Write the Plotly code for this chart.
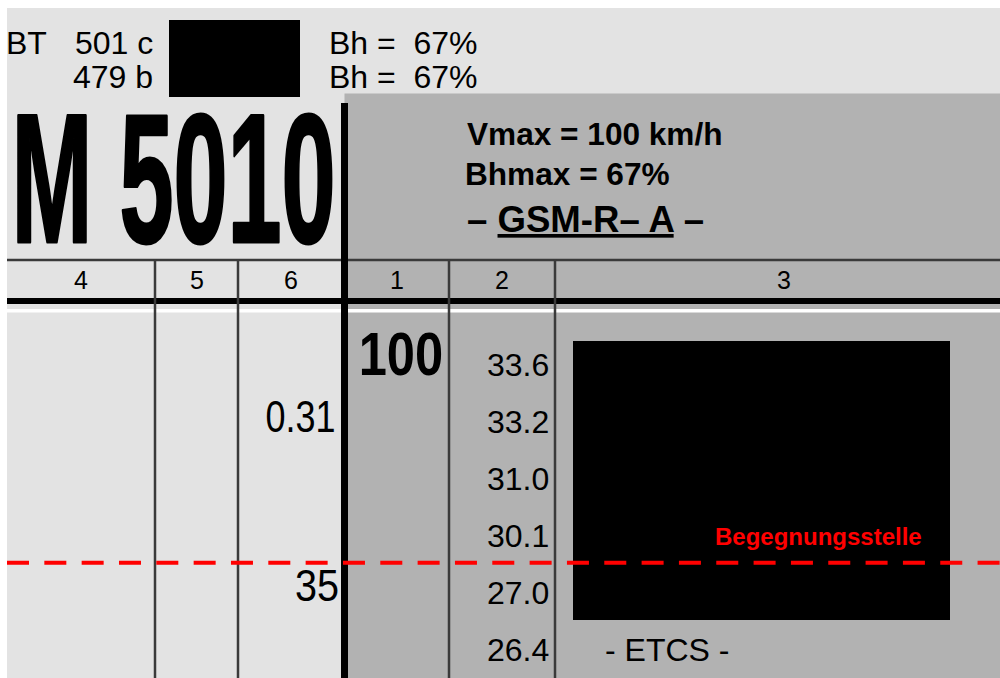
import json
import plotly.graph_objects as go

# ---------------- data ----------------
TRAIN_NUMBER = "M 5010"
BT_LABEL = "BT"
BT_CODES = ["501 c", "479 b"]
BRAKE_RATIOS = [67, 67]            # Bh = .. %
VMAX = 100                         # km/h
BHMAX = 67                         # %
RADIO_SYSTEM = "GSM-R– A"
COLUMN_LABELS = ["4", "5", "6", "1", "2", "3"]
KM_POSITIONS = [33.6, 33.2, 31.0, 30.1, 27.0, 26.4]   # column 2
COL6_VALUES = ["0.31", "35"]                            # column 6
SPEED_VALUES = ["100"]                                  # column 1
MEETING_LABEL = "Begegnungsstelle"
PROTECTION_LABEL = "- ETCS -"

# ---------------- layout / style ----------------
FONT = "Liberation Sans, Arial, sans-serif"
LIGHT = "#e3e3e3"
DARK = "#b2b2b2"
LINE = "#3a3a3a"
RED = "#ff0000"

W, H = 1000, 678
COL_EDGES = [7, 155, 238, 344.5, 449, 555, 1012]
ROW_TOP, ROW_STEP = 364.5, 57.0
TOP_LINES = [42.5, 77.0]
COL6_ROWS = [0.904, 3.868]
COL6_RIGHT = [337, 340]
COL6_SQUEEZE = [0.80, 0.88]
SPEED_ROWS = [-0.193]
MEETING_ROW = 3.48
PROTECTION_ROW = 5
HEADER_Y = 280
BOTTOM = 700


def row_y(r):
    return ROW_TOP + r * ROW_STEP


anns = []
squeeze = {}


def add(x, y_cap, text, size, anchor, weight="normal", color="black", sq=None, stroke=0, tight=0):
    idx = len(anns)
    anns.append(dict(
        x=x, y=y_cap + 0.0115 * size, xref="x", yref="y", text=text,
        showarrow=False, xanchor=anchor, yanchor="middle",
        align=anchor if anchor in ("left", "right") else "center",
        borderpad=0,
        font=dict(family=FONT, size=size, color=color, weight=weight),
    ))
    if sq:
        squeeze[str(idx)] = [sq, stroke, tight]


# top line
add(5, TOP_LINES[0], BT_LABEL, 32, "left")
for i, code in enumerate(BT_CODES):
    add(153.5, TOP_LINES[i], code, 32, "right")
for i, bh in enumerate(BRAKE_RATIOS):
    add(328, TOP_LINES[i], f"Bh =\u00a0 {bh}%", 32, "left")

# train number
add(173.5, 175.5, TRAIN_NUMBER, 184.4, "center", "bold", sq=0.527, stroke=3, tight=1)

# right header block
add(466, 134, f"Vmax = {VMAX} km/h", 31.6, "left", "bold")
add(464, 174, f"Bhmax = {BHMAX}%", 31.6, "left", "bold")
add(466, 219.5, f"– <u>{RADIO_SYSTEM}</u> –", 36.6, "left", "bold")

# column headers
for i, lab in enumerate(COLUMN_LABELS):
    cx = (COL_EDGES[i] + COL_EDGES[i + 1]) / 2
    add(cx, HEADER_Y, lab, 25, "center")

# column 1: speed
for v, r in zip(SPEED_VALUES, SPEED_ROWS):
    add(400.5, row_y(r), v, 61, "center", "bold", sq=0.83)

# column 6
for v, r, xr, s in zip(COL6_VALUES, COL6_ROWS, COL6_RIGHT, COL6_SQUEEZE):
    add(xr, row_y(r), v, 45, "right", sq=s)

# column 2: km
for i, km in enumerate(KM_POSITIONS):
    add(549.5, row_y(i), f"{km:.1f}", 32, "right")

# column 3 notes
add(923, row_y(MEETING_ROW) - 26.5, MEETING_LABEL, 24, "right", "bold", RED)
add(603.5, row_y(PROTECTION_ROW), PROTECTION_LABEL, 32, "left")

# ---------------- shapes ----------------
shapes = []


def rect(x0, y0, x1, y1, fill):
    shapes.append(dict(type="rect", xref="x", yref="y", x0=x0, y0=y0, x1=x1, y1=y1,
                       fillcolor=fill, line=dict(width=0), layer="below"))


def line(x0, y0, x1, y1, color, width):
    shapes.append(dict(type="line", xref="x", yref="y", x0=x0, y0=y0, x1=x1, y1=y1,
                       line=dict(color=color, width=width), layer="below"))


rect(COL_EDGES[0], 8, COL_EDGES[-1], BOTTOM, LIGHT)      # sheet
rect(COL_EDGES[3], 93.5, COL_EDGES[-1], BOTTOM, DARK)    # columns 1-3 shading
rect(169, 20, 300, 97, "black")          # redaction, top
rect(573, 341, 950, 620, "black")        # redaction, column 3
line(COL_EDGES[0], 260, COL_EDGES[-1], 260, LINE, 2.5)
line(COL_EDGES[0], 301, COL_EDGES[-1], 301, "black", 6)
line(COL_EDGES[0], 310.8, COL_EDGES[-1], 310.8, "white", 3.5)
for k in (1, 2, 4, 5):
    line(COL_EDGES[k], 259, COL_EDGES[k], BOTTOM, LINE, 2.5)
line(COL_EDGES[3], 103, COL_EDGES[3], BOTTOM, "black", 7)

# ---------------- figure ----------------
fig = go.Figure()
fig.add_trace(go.Scatter(
    x=[COL_EDGES[0], COL_EDGES[-1]], y=[row_y(MEETING_ROW)] * 2, mode="lines",
    line=dict(color=RED, width=4, dash="22px,15.33px"),
    hoverinfo="skip", showlegend=False,
))

fig.update_layout(
    width=W, height=H,
    margin=dict(l=0, r=0, t=0, b=0, pad=0),
    paper_bgcolor="white", plot_bgcolor="white",
    xaxis=dict(range=[0, W], visible=False, fixedrange=True),
    yaxis=dict(range=[H, 0], visible=False, fixedrange=True),
    shapes=shapes, annotations=anns, showlegend=False,
)

post = """
document.body.style.margin = '0';
document.body.style.overflow = 'hidden';
var gd = document.getElementById('{plot_id}');
var SQ = %s;
function squeezeText() {
  gd.querySelectorAll('g.annotation').forEach(function (g) {
    var spec = SQ[g.getAttribute('data-index')];
    if (!spec) return;
    var t = g.querySelector('text.annotation-text');
    if (!t) return;
    t.removeAttribute('textLength');
    var L = t.getComputedTextLength();
    t.setAttribute('lengthAdjust', 'spacingAndGlyphs');
    t.setAttribute('textLength', (L * spec[0]).toFixed(2));
    if (spec[1]) {
      t.style.stroke = t.style.fill || 'black';
      t.style.strokeWidth = spec[1] + 'px';
      t.style.strokeLinejoin = 'round';
    }
    var bg = g.querySelector('rect.bg');
    if (bg) {
      var bb = t.getBBox();
      bg.setAttribute('x', bb.x);
      bg.setAttribute('width', bb.width);
      if (spec[2]) {
        bg.setAttribute('y', bb.y + 0.169 * bb.height);
        bg.setAttribute('height', 0.641 * bb.height);
      }
    }
  });
}
squeezeText();
gd.on('plotly_afterplot', squeezeText);
""" % json.dumps(squeeze)

fig.write_html("out.html", config=dict(displayModeBar=False), post_script=post)
